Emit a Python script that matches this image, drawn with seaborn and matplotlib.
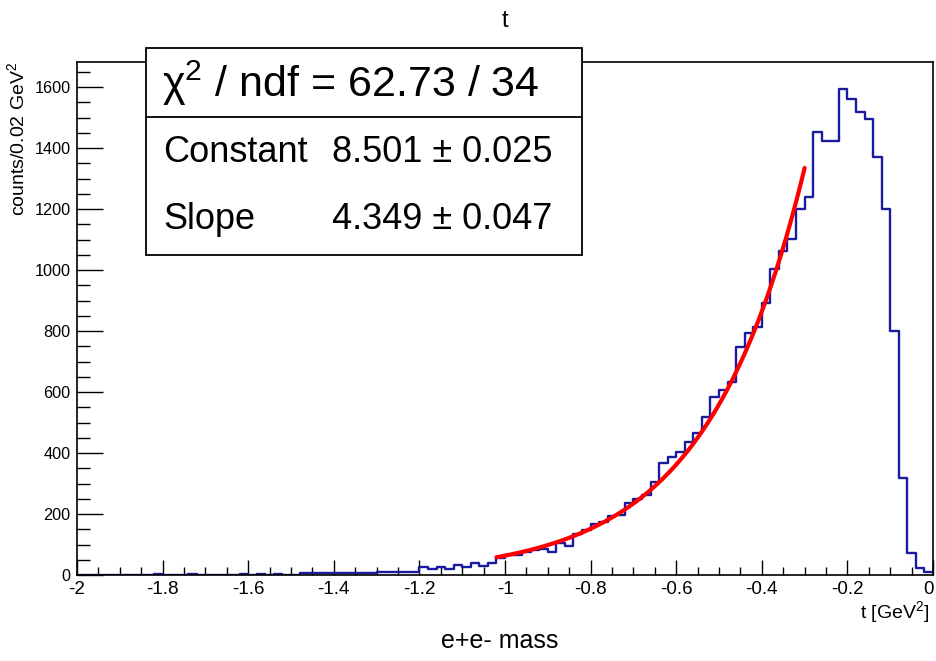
import numpy as np
import pandas as pd
import matplotlib
matplotlib.use("Agg")
import matplotlib.pyplot as plt
import matplotlib.transforms as mtransforms
from matplotlib.patches import Rectangle
from matplotlib.lines import Line2D
from matplotlib.ticker import MultipleLocator
import seaborn as sns

# ---- data ----
bin_range = [-2.0, 0.0]
n_bins = 100
counts = [0, 0, 0, 0, 0, 0, 0, 0, 0, 3,
          0, 0, 0, 3, 0, 0, 0, 0, 0, 3,
          0, 3, 0, 3, 0, 0, 5, 5, 5, 5,
          5, 5, 5, 5, 5, 10, 10, 10, 10, 10,
          25, 19, 25, 19, 33, 25, 39, 31, 39, 55,
          66, 67, 76, 82, 85, 75, 105, 95, 135, 148,
          168, 173, 195, 198, 236, 248, 262, 306, 366, 388,
          404, 437, 464, 517, 582, 607, 634, 749, 792, 814,
          892, 1003, 1062, 1102, 1200, 1239, 1452, 1423, 1423, 1593,
          1561, 1518, 1495, 1370, 1200, 800, 319, 72, 23, 10]
fit_range = [-1.02, -0.30]
fit_params = [8.501, 4.349]  # Constant, Slope
x_ticks = [-2, -1.8, -1.6, -1.4, -1.2, -1, -0.8, -0.6, -0.4, -0.2, 0]
x_tick_labels = ["-2", "-1.8", "-1.6", "-1.4", "-1.2", "-1", "-0.8", "-0.6", "-0.4", "-0.2", "0"]
y_ticks = [0, 200, 400, 600, 800, 1000, 1200, 1400, 1600]
stats_lines = [("Constant", "8.501 \u00b1 0.025"), ("Slope", "4.349 \u00b1 0.047")]
chi2_text = r"$\chi^{2}$ / ndf = 62.73 / 34"

# ---- style ----
sns.set_theme(style="white")
plt.rcParams["font.family"] = ["Liberation Sans", "DejaVu Sans"]
plt.rcParams["mathtext.fontset"] = "custom"
plt.rcParams["mathtext.rm"] = "Liberation Sans"
plt.rcParams["mathtext.it"] = "Liberation Sans:italic"
plt.rcParams["mathtext.default"] = "regular"
for k in ["text.color", "axes.labelcolor", "xtick.color", "ytick.color",
          "xtick.labelcolor", "ytick.labelcolor"]:
    plt.rcParams[k] = "black"

W, H = 936, 661
fig = plt.figure(figsize=(W / 100, H / 100), dpi=100)
fig.patch.set_facecolor("white")

def fx(px):
    return px / W

def fy(py):
    return 1 - py / H

ax_l, ax_r, ax_t, ax_b = 77, 933, 62, 575
ax = fig.add_axes([fx(ax_l), fy(ax_b), (ax_r - ax_l) / W, (ax_b - ax_t) / H])
ax.set_facecolor("white")

edges = np.linspace(bin_range[0], bin_range[1], n_bins + 1)
centers = (edges[:-1] + edges[1:]) / 2
df = pd.DataFrame({"t": centers, "counts": counts})
sns.histplot(data=df, x="t", weights="counts", bins=n_bins, binrange=tuple(bin_range),
             element="step", fill=False, color="#1a1a9e", linewidth=1.7, ax=ax)

tf = np.linspace(fit_range[0], fit_range[1], 100)
fit_df = pd.DataFrame({"t": tf, "f": np.exp(fit_params[0] + fit_params[1] * tf)})
sns.lineplot(data=fit_df, x="t", y="f", color="#ff0000", linewidth=3.0, ax=ax)

ax.set_xlim(bin_range)
ax.set_ylim(0, 1682)
ax.set_xlabel("")
ax.set_ylabel("")
ax.set_xticks(x_ticks)
ax.set_xticklabels(x_tick_labels)
ax.set_yticks(y_ticks)
ax.xaxis.set_minor_locator(MultipleLocator(0.05))
ax.yaxis.set_minor_locator(MultipleLocator(50))
ax.tick_params(axis="x", which="major", direction="in", length=11, width=1.0,
               color="black", labelcolor="black", labelsize=13.5, pad=4,
               bottom=True, top=False)
ax.tick_params(axis="x", which="minor", direction="in", length=5.5, width=1.0,
               color="black", bottom=True, top=False)
ax.tick_params(axis="y", which="major", direction="in", length=18.5, width=1.0,
               color="black", labelcolor="black", labelsize=11.7, pad=4.5,
               left=True, right=False)
ax.tick_params(axis="y", which="minor", direction="in", length=9, width=1.0,
               color="black", left=True, right=False)
for sp in ax.spines.values():
    sp.set_color("black")
    sp.set_linewidth(1.2)

# keep the last x tick label ("0") inside the canvas
last_lbl = ax.get_xticklabels()[-1]
last_lbl.set_transform(last_lbl.get_transform() +
                       mtransforms.ScaledTranslation(-4 / 100, 0, fig.dpi_scale_trans))

# titles / labels
fig.text(fx(505), fy(21), "t", ha="center", va="center", fontsize=17)
fig.text(fx(17), fy(62), r"counts/0.02 GeV$^{2}$", rotation=90, ha="center",
         va="top", fontsize=14)
fig.text(fx(930), fy(612), r"t [GeV$^{2}$]", ha="right", va="center", fontsize=14)
fig.text(fx(500), fy(641), "e+e- mass", ha="center", va="center", fontsize=18)

# stats box
box_l, box_r, box_t, box_b, box_div = 146, 582, 48, 255, 117
fig.patches.append(Rectangle((fx(box_l), fy(box_b)), (box_r - box_l) / W,
                             (box_b - box_t) / H, transform=fig.transFigure,
                             facecolor="white", edgecolor="black", linewidth=1.3,
                             zorder=5))
fig.lines.append(Line2D([fx(box_l), fx(box_r)], [fy(box_div), fy(box_div)],
                        transform=fig.transFigure, color="black", linewidth=1.3,
                        zorder=6))
fig.text(fx(162), fy(83), chi2_text, ha="left", va="center", fontsize=31, zorder=7)
for (name, val), yc in zip(stats_lines, [152, 220]):
    fig.text(fx(163), fy(yc), name, ha="left", va="center", fontsize=26, zorder=7)
    fig.text(fx(552), fy(yc), val, ha="right", va="center", fontsize=26, zorder=7)

fig.savefig("out.png", dpi=100, facecolor="white")
